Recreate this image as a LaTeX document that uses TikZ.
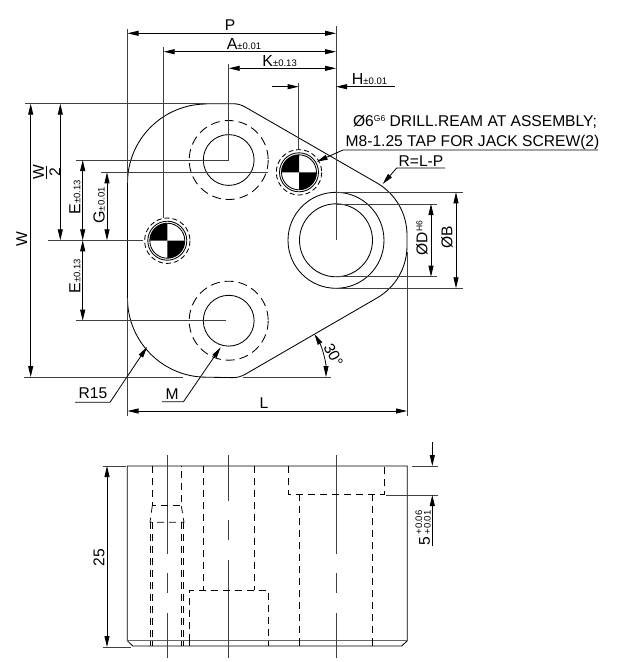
\documentclass[tikz,border=0pt]{standalone}
\usepackage{fontspec}
\setmainfont{Liberation Sans}
\usetikzlibrary{arrows.meta}
\newcommand{\lbl}[2]{{\fontsize{16}{16}\selectfont #1}{\fontsize{9.5}{9.5}\selectfont #2}}
\tikzset{
  part/.style={line width=.85pt},
  hidden/.style={line width=.75pt,dash pattern=on 7pt off 5pt},
  thin line/.style={line width=.85pt,black!75},
  dim/.style={line width=.8pt,{Stealth[inset=0pt,length=11pt,width=5pt]}-{Stealth[inset=0pt,length=11pt,width=5pt]}},
  lead/.style={line width=.8pt,-{Stealth[inset=0pt,length=11pt,width=5pt]}},
  txt/.style={inner sep=0pt,font=\fontsize{15.6}{17}\selectfont},
  centre A/.style={line width=.85pt,black!75,dash pattern=on 99pt off 19pt on 20pt off 20pt on 45pt},
  centre B/.style={line width=.85pt,black!75,dash pattern=on 46pt off 19pt on 20pt off 20pt on 98pt}
}
\begin{document}
\begin{tikzpicture}[x=1pt,y=-1pt]
\useasboundingbox (0,0) rectangle (627,662);
% hole centres
\coordinate (top) at (228.7,160);
\coordinate (low) at (228.7,320.7);
\coordinate (bore) at (336,240.3);
\coordinate (fidA) at (167.3,240.7);
\coordinate (fidB) at (299,172.3);
% outline, top view
\draw[part] (206.5,103.7) -- (233,103.7) arc[start angle=90,end angle=60,radius=24pt]
  -- (377,183) arc[start angle=60,end angle=0,radius=60pt]
  -- (407,246) arc[start angle=0,end angle=-60,radius=60pt]
  -- (245,374.4) arc[start angle=-60,end angle=-90,radius=24pt]
  -- (206.5,377.2) arc[start angle=270,end angle=180,radius=79pt]
  -- (127.5,183) arc[start angle=180,end angle=90,radius=79pt] -- cycle;
% holes
\foreach \c in {top,low} {
  \draw[part] (\c) circle[radius=25.4];
  \draw[part,dash pattern=on 9pt off 5pt] (\c) circle[radius=39.5];
}
\draw[part] (bore) circle[radius=36.5];
\draw[part] (bore) circle[radius=48];
\foreach \c in {fidA,fidB} {
  \draw[part] (\c) circle[radius=19.5];
  \draw[part] (\c) circle[radius=17.5];
  \draw[part,dash pattern=on 5pt off 3pt] (\c) circle[radius=22.7];
  \fill (\c) -- +(90:17.5pt) arc[start angle=90,end angle=180,radius=17.5pt] -- cycle;
  \fill (\c) -- +(270:17.5pt) arc[start angle=270,end angle=360,radius=17.5pt] -- cycle;
}
% extension lines
\draw[thin line] (127.5,29) -- (127.5,183) (127.5,298) -- (127.5,415.5);
\draw[thin line] (407,252) -- (407,415.5);
\draw[thin line] (336,26) -- (bore);
\draw[thin line] (163.7,47) -- (163.7,218);
\draw[thin line] (228.7,64) -- (top);
\draw[thin line] (298.7,83) -- (298.7,150);
\draw[thin line] (25,103.7) -- (206,103.7);
\draw[thin line] (76,160) -- (top);
\draw[thin line] (101,172.3) -- (268,172.3);
\draw[thin line] (48,240.3) -- (142.7,240.3);
\draw[thin line] (76,320.7) -- (226,320.7);
\draw[thin line] (24,377) -- (183,377);
\draw[thin line] (243,377) -- (331,377);
\draw[thin line] (336,192.3) -- (463,192.3);
\draw[thin line] (336,288.3) -- (463,288.3);
\draw[thin line] (336,204) -- (437,204);
\draw[thin line] (336,276.7) -- (437,276.7);
% dimensions, top view
\draw[dim] (127.5,33.3) -- (336,33.3);
\draw[dim] (163.7,51.7) -- (336,51.7);
\draw[dim] (228.7,68.3) -- (336,68.3);
\draw[lead] (271.7,86.7) -- (298.7,86.7);
\draw[lead] (395,86.7) -- (336,86.7);
\draw[dim] (127.5,411) -- (407,411);
\draw[dim] (30.7,103.7) -- (30.7,377);
\draw[dim] (60.3,103.7) -- (60.3,240.3);
\draw[dim] (82.7,160) -- (82.7,240.3);
\draw[dim] (82.7,240.3) -- (82.7,320.7);
\draw[dim] (107,172.3) -- (107,240.3);
\draw[dim] (431,204) -- (431,276.7);
\draw[dim] (456,192.3) -- (456,288.3);
\draw[dim] (314.5,334) arc[start angle=30,end angle=0,radius=86pt];
% leaders
\draw[lead] (598,150) -- (343,150) -- (316.7,161.7);
\draw[lead] (445,168) -- (396.7,168) -- (382.7,184);
\draw[lead] (75,402.3) -- (110,402.3) -- (147,347);
\draw[lead] (162,401.7) -- (183.5,401.7) -- (220.7,347.3);
% labels
\node[txt] (labP) at (230,25) {P};
\node[txt] (labA) at (244,44.5) {\lbl{A}{±0.01}};
\node[txt] (labK) at (279.6,61) {\lbl{K}{±0.13}};
\node[txt] (labH) at (369.5,79) {\lbl{H}{±0.01}};
\node[txt,anchor=base] (labDrill) at (475,126.5) {Ø6{\fontsize{8.5}{8}\selectfont\raisebox{5pt}{G6}} DRILL.REAM AT ASSEMBLY;};
\node[txt,anchor=base] (labTap) at (472.5,146) {M8-1.25 TAP FOR JACK SCREW(2)};
\node[txt] (labR) at (421,161.5) {R=L-P};
\node[txt,rotate=90] (labW) at (21.7,239) {W};
\node[txt,rotate=90] (labHalfW) at (38.5,172) {W};
\node[txt,rotate=90] (labHalfTwo) at (55,172) {2};
\draw[line width=.8pt] (46.7,165.5) -- (46.7,178.5);
\node[txt,rotate=90] (labE) at (75,197) {\lbl{E}{±0.13}};
\node[txt,rotate=90] (labG) at (99,205.5) {\lbl{G}{±0.01}};
\node[txt,rotate=90] (labF) at (75,276) {\lbl{E}{±0.13}};
\node[txt,rotate=90] (labD) at (422,238) {ØD{\fontsize{8.5}{8}\selectfont\raisebox{5pt}{H6}}};
\node[txt,rotate=90] (labB) at (447,237) {ØB};
\node[txt,rotate=-62] (labAng) at (333.5,355) {30°};
\node[txt] (labRad) at (93,393.5) {R15};
\node[txt] (labM) at (172,394.5) {M};
\node[txt] (labL) at (264,403) {L};
% side view
\draw[part] (127.3,466) -- (407.3,466) -- (407.3,640.7) -- (401.7,646) -- (132.7,646) -- (127.3,640.7) -- cycle;
\draw[line width=1.2pt,black!60] (127.3,640.7) -- (407.3,640.7);
\draw[centre A] (167.3,455) -- (167.3,658);
\draw[centre B] (228.7,455) -- (228.7,658);
\draw[centre A] (336,455) -- (336,658);
% hidden edges
\draw[hidden] (152.3,466) -- (152.3,505.7) -- (181.3,505.7) -- (181.3,466);
\draw[hidden] (152.3,505.7) -- (150,522.3) -- (184,522.3) -- (181.3,505.7);
\foreach \x in {150,152.3,181.3,183.7,189.3,268,299.3,372.7} {
  \draw[line width=.7pt] (\x,640.7) -- (\x,646);
}
\foreach \x in {150,152.3,181.3,183.7} {
  \draw[hidden] (\x,522.3) -- (\x,640.7);
}
\draw[hidden] (203.3,466) -- (203.3,590);
\draw[hidden] (254,466) -- (254,590);
\draw[hidden] (189.3,640.7) -- (189.3,590) -- (268,590) -- (268,640.7);
\draw[hidden] (288.3,466) -- (288.3,494.3) -- (384,494.3) -- (384,466);
\draw[hidden] (299.3,494.3) -- (299.3,640.7);
\draw[hidden] (372.7,494.3) -- (372.7,640.7);
% dimensions, side view
\draw[thin line] (103,466) -- (126,466);
\draw[thin line] (103,647) -- (131,647);
\draw[dim] (107,466) -- (107,647);
\node[txt,rotate=90] (lab25) at (99,557.7) {25};
\draw[thin line] (411.7,466) -- (437.7,466);
\draw[thin line] (385.7,495) -- (437.7,495);
\draw[lead] (432.3,442) -- (432.3,466);
\draw[lead] (432.3,546) -- (432.3,495);
\node[txt,rotate=90] (lab5) at (424.5,540.7) {5};
\node[rotate=90,inner sep=0pt,align=center,font=\fontsize{9.5}{8.5}\selectfont] (labTol) at (423,522.5) {+0.06\\+0.01};
\end{tikzpicture}
\end{document}
